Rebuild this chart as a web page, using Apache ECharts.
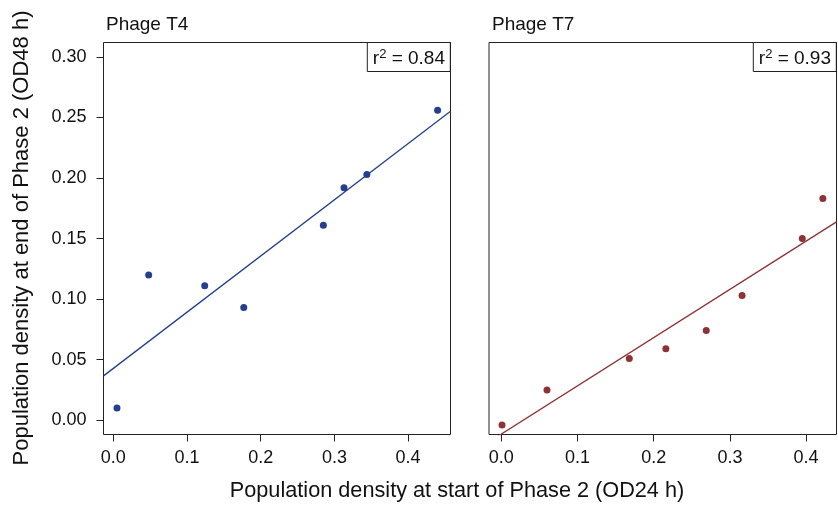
<!DOCTYPE html>
<html>
<head>
<meta charset="utf-8">
<script src="https://cdn.jsdelivr.net/npm/echarts@6/dist/echarts.min.js"></script>
<style>
  html, body { margin: 0; padding: 0; background: #fff; }
  #chart { width: 838px; height: 506px; }
</style>
</head>
<body>
<div id="chart"></div>
<script>
// values
const t4X = [0.005, 0.048, 0.124, 0.177, 0.285, 0.313, 0.344, 0.440]
const t4Y = [0.010, 0.120, 0.111, 0.093, 0.161, 0.192, 0.203, 0.256]
const t7X = [0.001, 0.060, 0.168, 0.216, 0.269, 0.316, 0.395, 0.422]
const t7Y = [-0.004, 0.025, 0.051, 0.059, 0.074, 0.103, 0.150, 0.183]

// fitted lines, end points
const t4FitX = [-0.0133, 0.4575]
const t4FitY = [0.0366, 0.2552]
const t7FitX = [-0.0161, 0.4399]
const t7FitY = [-0.0179, 0.1638]

const xTicks = [0, 0.1, 0.2, 0.3, 0.4]
const yTicks = [0, 0.05, 0.10, 0.15, 0.20, 0.25, 0.30]

const panelTitles = ['Phage T4', 'Phage T7']
const r2Values = ['0.84', '0.93']

const FONT = "'Liberation Sans', Arial, sans-serif"
const BLUE = '#233f8e'
const RED = '#8e3335'

const zip = (xs, ys) => xs.map((x, i) => [x, ys[i]])

const xAxisFor = (gridIndex, min, max) => ({
  type: 'value',
  gridIndex,
  min,
  max,
  axisLine: { show: false, onZero: false },
  splitLine: { show: false },
  axisTick: { show: true, length: 7, customValues: xTicks, lineStyle: { color: '#222' } },
  axisLabel: {
    customValues: xTicks,
    formatter: v => v.toFixed(1),
    fontFamily: FONT,
    fontSize: 18,
    color: '#111',
    margin: 15
  }
})

const r2Title = (i, right) => ({
  text: '{n|r}{s|2}{n| = ' + r2Values[i] + '}',
  right,
  top: 42,
  borderWidth: 1,
  borderColor: '#222',
  padding: [6, 6, 3, 6],
  textStyle: {
    fontWeight: 'normal',
    rich: {
      n: { fontFamily: FONT, fontSize: 19, fontWeight: 'normal', color: '#111', lineHeight: 22 },
      s: { fontFamily: FONT, fontSize: 13, fontWeight: 'normal', color: '#111', verticalAlign: 'top', lineHeight: 14 }
    }
  }
})

const panelTitle = (i, left) => ({
  text: panelTitles[i],
  left,
  top: 10,
  textStyle: { fontFamily: FONT, fontSize: 19, fontWeight: 'normal', color: '#111' }
})

const chart = echarts.init(document.getElementById('chart'))

chart.setOption({
  animation: false,
  title: [
    panelTitle(0, 101),
    panelTitle(1, 487),
    r2Title(0, 387),
    r2Title(1, 1)
  ],
  grid: [
    { left: 103.5, top: 42.5, width: 347, height: 392, show: true, borderColor: '#222', borderWidth: 1 },
    { left: 489, top: 42.5, width: 347.5, height: 392, show: true, borderColor: '#222', borderWidth: 1 }
  ],
  xAxis: [
    xAxisFor(0, -0.0133, 0.4575),
    xAxisFor(1, -0.0161, 0.4399)
  ],
  yAxis: [
    {
      type: 'value',
      gridIndex: 0,
      min: -0.0118,
      max: 0.3119,
      axisLine: { show: false, onZero: false },
      splitLine: { show: false },
      axisTick: { show: true, length: 7, customValues: yTicks, lineStyle: { color: '#222' } },
      axisLabel: {
        customValues: yTicks,
        formatter: v => v.toFixed(2),
        fontFamily: FONT,
        fontSize: 18,
        color: '#111',
        margin: 17
      }
    },
    {
      type: 'value',
      gridIndex: 1,
      min: -0.0118,
      max: 0.3119,
      axisLine: { show: false, onZero: false },
      splitLine: { show: false },
      axisTick: { show: false },
      axisLabel: { show: false }
    }
  ],
  graphic: [
    {
      type: 'text',
      x: 457,
      y: 491,
      style: {
        text: 'Population density at start of Phase 2 (OD24 h)',
        fontFamily: FONT,
        fontSize: 21.7,
        fill: '#111',
        textAlign: 'center',
        textVerticalAlign: 'middle'
      }
    },
    {
      type: 'text',
      x: 22,
      y: 238,
      rotation: Math.PI / 2,
      style: {
        text: 'Population density at end of Phase 2 (OD48 h)',
        fontFamily: FONT,
        fontSize: 22,
        fill: '#111',
        textAlign: 'center',
        textVerticalAlign: 'middle'
      }
    }
  ],
  series: [
    {
      type: 'line',
      xAxisIndex: 0,
      yAxisIndex: 0,
      data: zip(t4FitX, t4FitY),
      symbol: 'none',
      clip: true,
      lineStyle: { color: BLUE, width: 1.3 }
    },
    {
      type: 'scatter',
      xAxisIndex: 0,
      yAxisIndex: 0,
      data: zip(t4X, t4Y),
      symbolSize: 7,
      itemStyle: { color: BLUE, opacity: 1 }
    },
    {
      type: 'line',
      xAxisIndex: 1,
      yAxisIndex: 1,
      data: zip(t7FitX, t7FitY),
      symbol: 'none',
      clip: true,
      lineStyle: { color: RED, width: 1.3 }
    },
    {
      type: 'scatter',
      xAxisIndex: 1,
      yAxisIndex: 1,
      data: zip(t7X, t7Y),
      symbolSize: 7,
      itemStyle: { color: RED, opacity: 1 }
    }
  ]
})
</script>
</body>
</html>
